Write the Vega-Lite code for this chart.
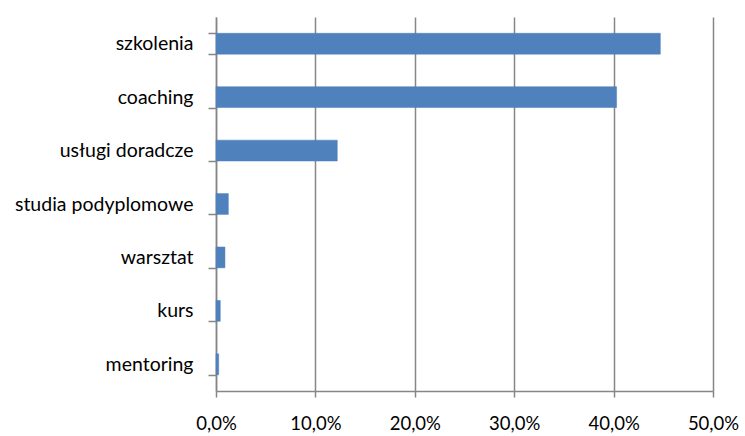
{
  "$schema": "https://vega.github.io/schema/vega-lite/v6.json",
  "width": 497,
  "height": 374,
  "autosize": "none",
  "padding": {"left": 216, "top": 17, "right": 32, "bottom": 45},
  "background": "white",
  "config": {
    "view": {"stroke": null},
    "font": "Lato",
    "axis": {"labelFont": "Lato", "labelColor": "#000000", "domainColor": "#868686", "tickColor": "#868686", "gridColor": "#868686", "domainWidth": 1.5, "tickWidth": 1.5, "gridWidth": 1.5}
  },
  "data": {
    "values": [
      {"kategoria": "szkolenia", "udzial": 0.447},
      {"kategoria": "coaching", "udzial": 0.403},
      {"kategoria": "usługi doradcze", "udzial": 0.122},
      {"kategoria": "studia podyplomowe", "udzial": 0.0124},
      {"kategoria": "warsztat", "udzial": 0.009},
      {"kategoria": "kurs", "udzial": 0.0043},
      {"kategoria": "mentoring", "udzial": 0.0027}
    ]
  },
  "mark": {"type": "bar", "color": "#4F81BD", "stroke": "#4A7DBA", "strokeWidth": 0.5},
  "encoding": {
    "y": {
      "field": "kategoria",
      "type": "nominal",
      "sort": null,
      "scale": {"paddingInner": 0.61, "paddingOuter": 0.305},
      "axis": {"title": null, "tickBand": "extent", "tickSize": 8, "labelPadding": 15, "labelFontSize": 19.5, "grid": false, "domain": true}
    },
    "x": {
      "field": "udzial",
      "type": "quantitative",
      "scale": {"domain": [0, 0.5], "nice": false},
      "axis": {"title": null, "values": [0, 0.1, 0.2, 0.3, 0.4, 0.5], "tickSize": 6, "labelPadding": 17, "labelFontSize": 18.5, "grid": true, "labelExpr": "replace(format(datum.value, '.1%'), '.', ',')", "labelFlush": false}
    }
  }
}
